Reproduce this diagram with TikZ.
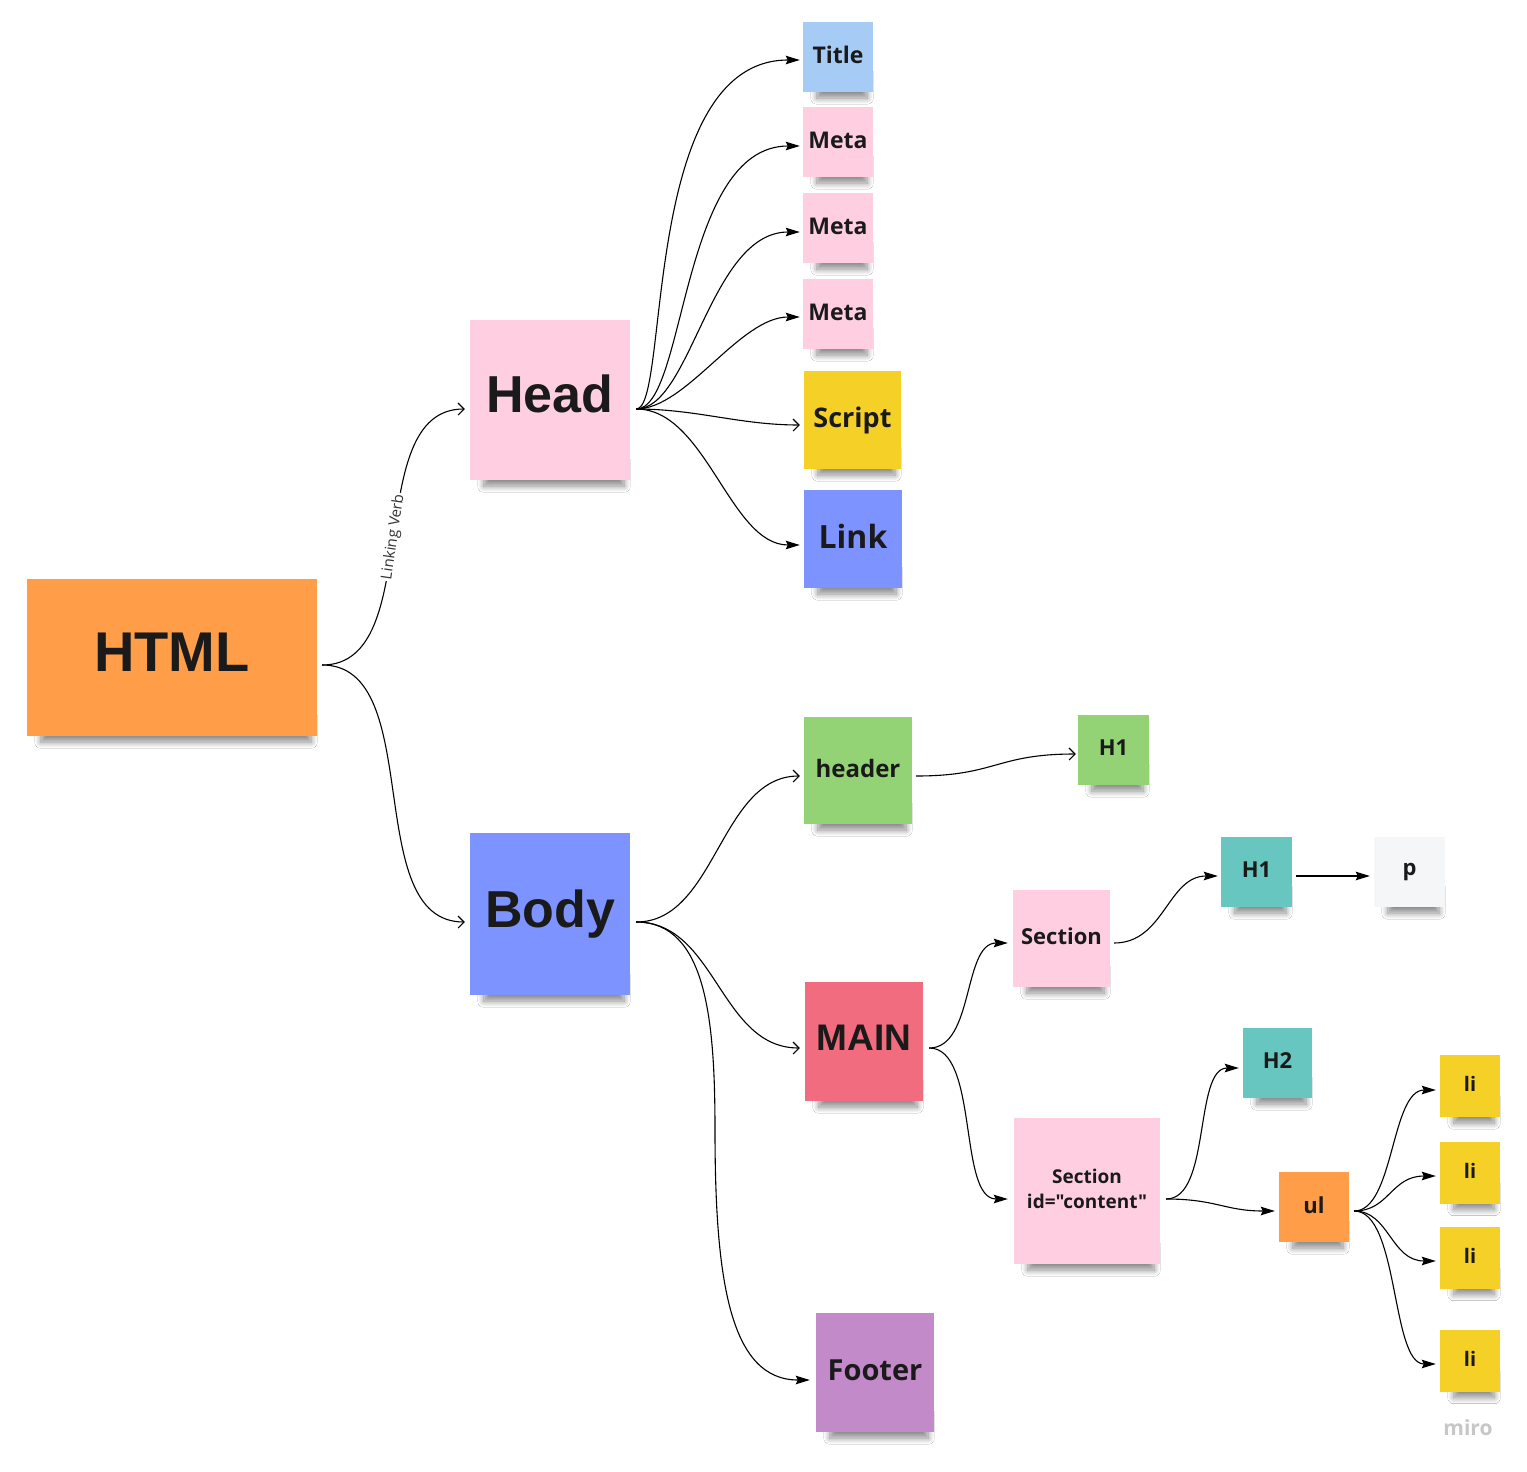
\documentclass[tikz,border=0pt]{standalone}
\usepackage{fontspec}
\setmainfont{Open Sans}[Ligatures=TeXOff]
\newfontfamily\bigfont{Liberation Sans}
\usetikzlibrary{arrows.meta,shadows.blur}
\pgfdeclarelayer{background}
\pgfsetlayers{background,main}
\definecolor{cHTML}{HTML}{FF9D48}
\definecolor{cPink}{HTML}{FFCEE0}
\definecolor{cBlue}{HTML}{7D93FF}
\definecolor{cLBlue}{HTML}{A6CCF5}
\definecolor{cYellow}{HTML}{F5D128}
\definecolor{cGreen}{HTML}{93D275}
\definecolor{cTeal}{HTML}{67C6C0}
\definecolor{cRed}{HTML}{F16C7F}
\definecolor{cPurple}{HTML}{C28AC8}
\definecolor{cGrayNote}{HTML}{F5F6F8}
\definecolor{cText}{HTML}{1A1A1A}
\tikzset{
  note/.style={rectangle, inner sep=0pt, align=center, text=cText,
    font=\bfseries\fontsize{22}{26}\selectfont},
  notes/.style={blur shadow={shadow xshift=0pt, shadow yshift=0pt, shadow opacity=45, shadow blur radius=6pt, shadow blur steps=12}},
  conn/.style={line width=1.1pt, draw=black},
  filled/.style={conn, -{Stealth[length=14pt,width=8.5pt,inset=2pt]}},
  openarr/.style={conn, -{Straight Barb[length=6pt,width=12pt,line width=1.1pt]}},
}
\begin{document}
\begin{tikzpicture}[x=1pt,y=-1pt]
\useasboundingbox (0,0) rectangle (1527,1472);

% notes
\node[note, fill=cHTML, minimum width=290pt, minimum height=157pt, font=\bigfont\bfseries\fontsize{56}{60}\selectfont] (html) at (172,657.5) {\raisebox{10pt}{HTML}};
\node[note, fill=cPink, minimum width=160pt, minimum height=160pt, font=\bigfont\bfseries\fontsize{52}{56}\selectfont] (head) at (550,400) {\raisebox{12pt}{Head}};
\node[note, fill=cBlue, minimum width=160pt, minimum height=162pt, font=\bigfont\bfseries\fontsize{52}{56}\selectfont] (body) at (550,914) {\raisebox{7pt}{Body}};

\node[note, fill=cLBlue, minimum width=70pt, minimum height=70pt, font=\bfseries\fontsize{23}{26}\selectfont] (title) at (838,57) {\raisebox{4pt}{Title}};
\node[note, fill=cPink, minimum width=70pt, minimum height=70pt, font=\bfseries\fontsize{23}{26}\selectfont] (meta1) at (838,142) {\raisebox{3pt}{Meta}};
\node[note, fill=cPink, minimum width=70pt, minimum height=70pt, font=\bfseries\fontsize{23}{26}\selectfont] (meta2) at (838,228) {\raisebox{3pt}{Meta}};
\node[note, fill=cPink, minimum width=70pt, minimum height=70pt, font=\bfseries\fontsize{23}{26}\selectfont] (meta3) at (838,314) {\raisebox{3pt}{Meta}};
\node[note, fill=cYellow, minimum width=97pt, minimum height=98pt, font=\bfseries\fontsize{27}{30}\selectfont] (script) at (852.5,420) {\raisebox{5pt}{Script}};
\node[note, fill=cBlue, minimum width=98pt, minimum height=98pt, font=\bfseries\fontsize{32}{36}\selectfont] (link) at (853,539) {\raisebox{6pt}{Link}};

\node[note, fill=cGreen, minimum width=108pt, minimum height=107pt, font=\bfseries\fontsize{24}{28}\selectfont] (header) at (858,770.5) {\raisebox{5pt}{header}};
\node[note, fill=cGreen, minimum width=71pt, minimum height=70pt] (h1a) at (1113.5,750) {\raisebox{4pt}{H1}};
\node[note, fill=cRed, minimum width=118pt, minimum height=119pt, font=\bigfont\bfseries\fontsize{37}{40}\selectfont] (main) at (864,1041.5) {\raisebox{7pt}{MAIN}};
\node[note, fill=cPink, minimum width=97pt, minimum height=97pt] (section) at (1061.5,938.5) {\raisebox{5pt}{Section}};
\node[note, fill=cTeal, minimum width=71pt, minimum height=70pt] (h1b) at (1256.5,872) {\raisebox{4pt}{H1}};
\node[note, fill=cGrayNote, minimum width=71pt, minimum height=70pt] (p) at (1409.5,872) {\raisebox{3pt}{p}};
\node[note, fill=cTeal, minimum width=69pt, minimum height=70pt] (h2) at (1277.5,1063) {\raisebox{4pt}{H2}};
\node[note, fill=cPink, minimum width=146pt, minimum height=146pt, font=\bfseries\fontsize{19}{26}\selectfont] (content) at (1087,1191) {\raisebox{6pt}{\begin{tabular}{@{}c@{}}Section\\[-1pt]id="content"\end{tabular}}};
\node[note, fill=cHTML, minimum width=70pt, minimum height=70pt] (ul) at (1314,1207) {\raisebox{4pt}{ul}};
\node[note, fill=cYellow, minimum width=60pt, minimum height=62pt, font=\bfseries\fontsize{20}{24}\selectfont] (li1) at (1470,1086) {\raisebox{4pt}{li}};
\node[note, fill=cYellow, minimum width=60pt, minimum height=62pt, font=\bfseries\fontsize{20}{24}\selectfont] (li2) at (1470,1172.5) {\raisebox{4pt}{li}};
\node[note, fill=cYellow, minimum width=60pt, minimum height=62pt, font=\bfseries\fontsize{20}{24}\selectfont] (li3) at (1470,1257.5) {\raisebox{4pt}{li}};
\node[note, fill=cYellow, minimum width=60pt, minimum height=62pt, font=\bfseries\fontsize{20}{24}\selectfont] (li4) at (1470,1360.5) {\raisebox{4pt}{li}};
\node[note, fill=cPurple, minimum width=118pt, minimum height=119pt, font=\bfseries\fontsize{29}{32}\selectfont] (footer) at (875,1372.5) {\raisebox{5pt}{Footer}};

\node[text=black!22, font=\fontsize{21}{24}\selectfont\bfseries] (miro) at (1468,1428) {miro};

% shadows under the notes
\begin{pgfonlayer}{background}
\fill[white] (0,0) rectangle (1527,1472);
\foreach \n in {html,head,body,title,meta1,meta2,meta3,script,link,header,h1a,main,section,h1b,p,h2,content,ul,li1,li2,li3,li4,footer}{
  \path[notes] ([xshift=14pt,yshift=20pt]\n.south west) rectangle ([xshift=-6pt,yshift=-6pt]\n.south east);
}
\end{pgfonlayer}

% connectors
\draw[openarr] ([xshift=5pt,yshift=-7.5pt]html.east) .. controls +(105,0) and +(-105,0) .. ([xshift=-5pt,yshift=-9pt]head.west)
  node[pos=0.5, sloped, fill=white, inner sep=1.5pt, text=black!80, font=\fontsize{15}{17}\selectfont] (lv) {Linking Verb};
\draw[openarr] ([xshift=5pt,yshift=-7.5pt]html.east) .. controls +(105,0) and +(-105,0) .. ([xshift=-5pt,yshift=-8pt]body.west);

\draw[filled] ([xshift=6pt,yshift=-9pt]head.east) .. controls +(34,0) and +(-160,0) .. ([xshift=-3pt,yshift=-3pt]title.west);
\draw[filled] ([xshift=6pt,yshift=-9pt]head.east) .. controls +(50,0) and +(-120,0) .. ([xshift=-3pt,yshift=-4pt]meta1.west);
\draw[filled] ([xshift=6pt,yshift=-9pt]head.east) .. controls +(55,0) and +(-90,0) .. ([xshift=-3pt,yshift=-4pt]meta2.west);
\draw[filled] ([xshift=6pt,yshift=-9pt]head.east) .. controls +(50,0) and +(-60,0) .. ([xshift=-3pt,yshift=-3pt]meta3.west);
\draw[openarr] ([xshift=6pt,yshift=-9pt]head.east) .. controls +(60,0) and +(-60,0) .. ([xshift=-4pt,yshift=-5pt]script.west);
\draw[filled] ([xshift=6pt,yshift=-9pt]head.east) .. controls +(70,0) and +(-70,0) .. ([xshift=-4pt,yshift=-6pt]link.west);

\draw[openarr] ([xshift=6pt,yshift=-8pt]body.east) .. controls +(80,0) and +(-80,0) .. ([xshift=-4pt,yshift=-5.5pt]header.west);
\draw[openarr] ([xshift=6pt,yshift=-8pt]body.east) .. controls +(80,0) and +(-80,0) .. ([xshift=-5pt,yshift=-6.5pt]main.west);
\draw[filled] ([xshift=6pt,yshift=-8pt]body.east) .. controls +(70,0) and +(0,-110) .. (715,1130) .. controls +(0,150) and +(-80,0) .. ([xshift=-6pt,yshift=-7.5pt]footer.west);

\draw[openarr] ([xshift=4pt,yshift=-5.5pt]header.east) .. controls +(80,0) and +(-80,0) .. ([xshift=-2pt,yshift=-4pt]h1a.west);
\draw[filled] ([xshift=6pt,yshift=-6.5pt]main.east) .. controls +(45,0) and +(-45,0) .. ([xshift=-5pt,yshift=-4.5pt]section.west);
\draw[filled] ([xshift=6pt,yshift=-6.5pt]main.east) .. controls +(50,0) and +(-50,0) .. ([xshift=-6pt,yshift=-8pt]content.west);
\draw[filled] ([xshift=4pt,yshift=-4.5pt]section.east) .. controls +(50,0) and +(-50,0) .. ([xshift=-3pt,yshift=-4pt]h1b.west);
\draw[filled] ([xshift=4pt,yshift=-4pt]h1b.east) -- ([xshift=-4pt,yshift=-4pt]p.west);
\draw[filled] ([xshift=6pt,yshift=-8pt]content.east) .. controls +(45,0) and +(-45,0) .. ([xshift=-4pt,yshift=-5pt]h2.west);
\draw[filled] ([xshift=6pt,yshift=-8pt]content.east) .. controls +(50,0) and +(-50,0) .. ([xshift=-4pt,yshift=-4pt]ul.west);

\draw[filled] ([xshift=5pt,yshift=-4pt]ul.east) .. controls +(40,0) and +(-45,0) .. ([xshift=-4pt,yshift=-4pt]li1.west);
\draw[filled] ([xshift=5pt,yshift=-4pt]ul.east) .. controls +(35,0) and +(-45,0) .. ([xshift=-4pt,yshift=-3.5pt]li2.west);
\draw[filled] ([xshift=5pt,yshift=-4pt]ul.east) .. controls +(35,0) and +(-45,0) .. ([xshift=-4pt,yshift=-3.5pt]li3.west);
\draw[filled] ([xshift=5pt,yshift=-4pt]ul.east) .. controls +(45,0) and +(-45,0) .. ([xshift=-4pt,yshift=-3.5pt]li4.west);
\end{tikzpicture}
\end{document}
